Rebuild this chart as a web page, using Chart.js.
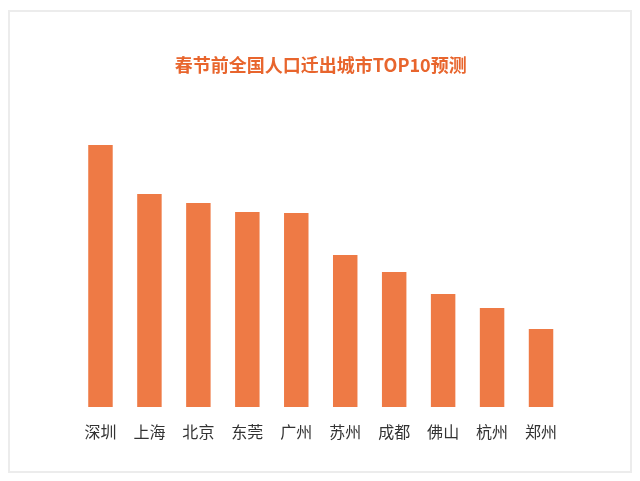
<!DOCTYPE html>
<html>
<head>
<meta charset="utf-8">
<script src="https://cdn.jsdelivr.net/npm/chart.js@4"></script>
<style>
  html, body { margin: 0; padding: 0; background: #ffffff; }
  #wrap { position: relative; width: 640px; height: 481px; }
  #frame { position: absolute; left: 8px; top: 10px; width: 620px; height: 459px; border: 2px solid #ececec; box-sizing: content-box; }
  canvas { position: absolute; left: 0; top: 0; }
</style>
</head>
<body>
<div id="wrap">
  <div id="frame"></div>
  <canvas id="c" width="640" height="481"></canvas>
</div>
<script>
const titleText = '春节前全国人口迁出城市TOP10预测';
const cities = ['深圳', '上海', '北京', '东莞', '广州', '苏州', '成都', '佛山', '杭州', '郑州'];
const values = [262, 213, 204, 195, 194, 152, 135, 113, 99, 78];

new Chart(document.getElementById('c'), {
  type: 'bar',
  data: {
    labels: cities,
    datasets: [{
      data: values,
      backgroundColor: '#EE7A45',
      borderWidth: 0,
      categoryPercentage: 1.0,
      barPercentage: 0.5
    }]
  },
  options: {
    responsive: false,
    animation: false,
    devicePixelRatio: 1,
    layout: { padding: { left: 76, right: 74.5, top: 54.2, bottom: 24.8 } },
    plugins: {
      legend: { display: false },
      tooltip: { enabled: false },
      title: {
        display: true,
        text: titleText,
        color: '#E8652D',
        font: { family: '"Noto Sans CJK SC", "Noto Sans", sans-serif', size: 18, weight: 'bold' },
        padding: { top: 0, bottom: 31.2 }
      }
    },
    scales: {
      x: {
        grid: { display: false, drawTicks: false },
        border: { display: false },
        ticks: {
          color: '#333333',
          padding: 15,
          font: { family: '"Noto Sans CJK SC", "Noto Sans", sans-serif', size: 16 }
        }
      },
      y: {
        display: false,
        min: 0,
        max: 300
      }
    }
  }
});
</script>
</body>
</html>
